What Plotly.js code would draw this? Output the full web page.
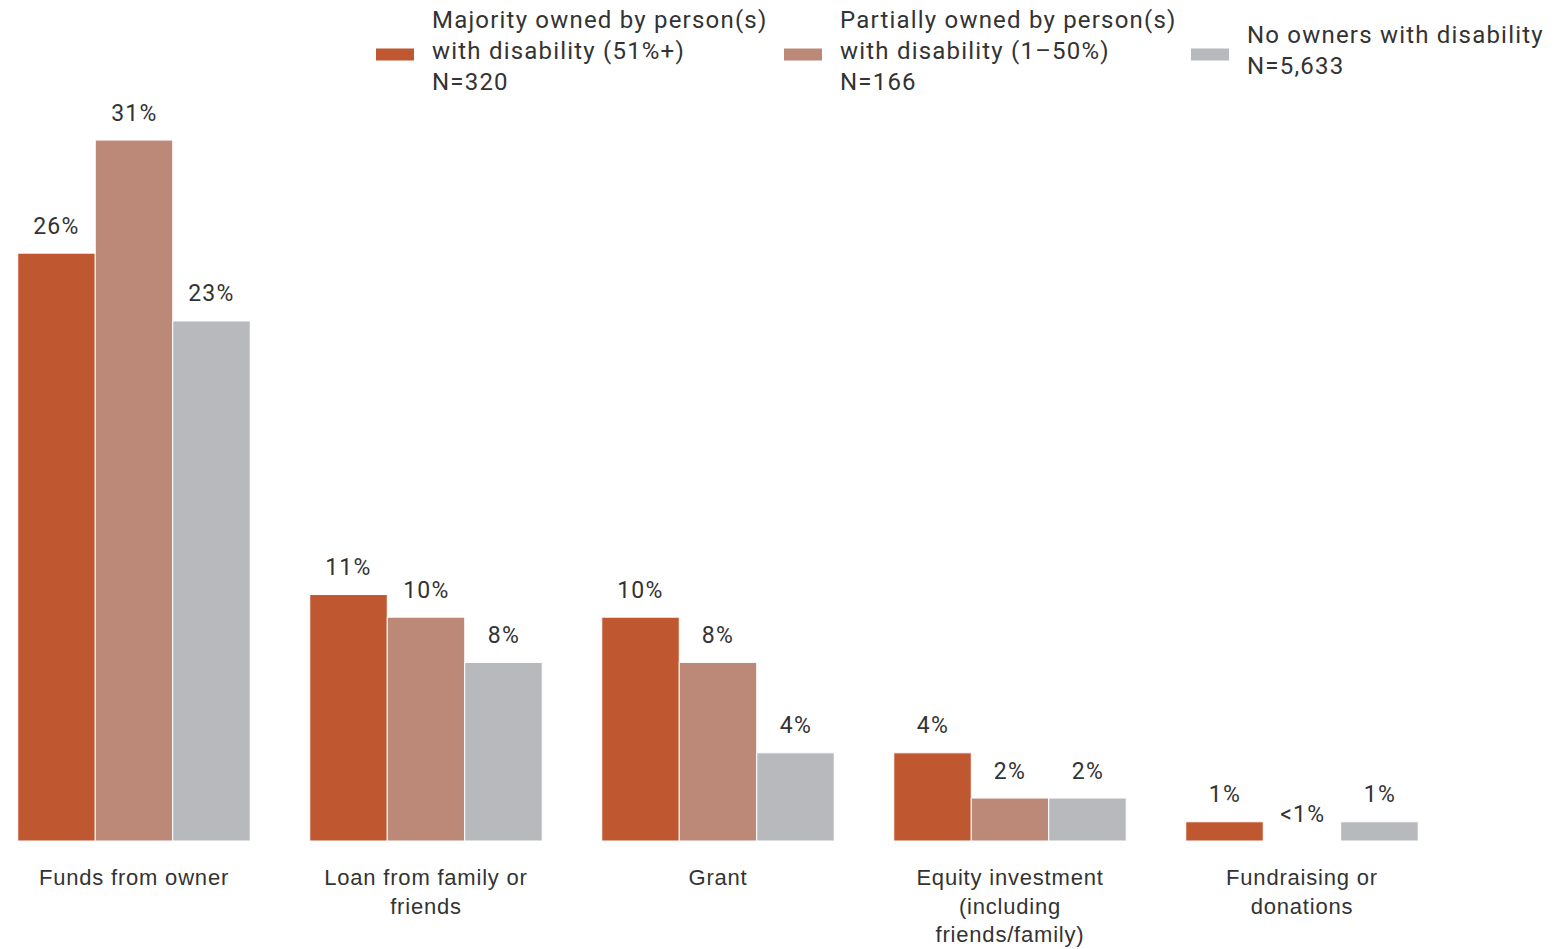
<!DOCTYPE html>
<html>
<head>
<meta charset="utf-8">
<script src="https://cdn.plot.ly/plotly-3.0.1.min.js"></script>
<style>
html,body{margin:0;padding:0;background:#fff;}
#chart{width:1556px;height:949px;}
#chart .annotation-text{letter-spacing:1.2px;}
#chart .xtick text{letter-spacing:0.8px;}
</style>
</head>
<body>
<div id="chart"></div>
<script>
const categories = ["Funds from owner", "Loan from family or<br>friends", "Grant", "Equity investment<br>(including<br>friends/family)", "Fundraising or<br>donations"];
const seriesNames = ["Majority owned by person(s)<br>with disability (51%+)<br>N=320", "Partially owned by person(s)<br>with disability (1\u201350%)<br>N=166", "No owners with disability<br>N=5,633"];
const majorityValues = [26, 10.9, 9.9, 3.9, 0.85];
const partialValues = [31, 9.9, 7.9, 1.9, 0];
const noneValues = [23, 7.9, 3.9, 1.9, 0.85];
const majorityLabels = ["26%", "11%", "10%", "4%", "1%"];
const partialLabels = ["31%", "10%", "8%", "2%", "<1%"];
const noneLabels = ["23%", "8%", "4%", "2%", "1%"];
const colors = ["#BF5730", "#BC8877", "#B8B9BD"];

const values = [majorityValues, partialValues, noneValues];
const labels = [majorityLabels, partialLabels, noneLabels];
const xs = categories.map((c, i) => i);

const traces = values.map((v, k) => ({
  type: "bar",
  x: xs,
  y: v,
  name: seriesNames[k],
  marker: {color: colors[k], line: {color: "#ffffff", width: 1}},
  showlegend: false,
  hoverinfo: "none"
}));

const W = 1556, H = 949;
const plotTop = 100, plotBottom = 841;
const slot = 77.5;
const annotations = [];
values.forEach((v, k) => {
  v.forEach((val, i) => {
    annotations.push({
      x: i, y: val, xref: "x", yref: "y",
      text: labels[k][i], showarrow: false,
      xshift: (k - 1) * slot, yshift: 27, yanchor: "middle", xanchor: "center",
      font: {family: "Roboto", size: 23, color: "#333333"}
    });
  });
});

const legendX = [376, 784, 1191];
const legendTextY = 51;
const legendSymY = 54.5;
const shapes = [];
const toPX = px => px / W;
const toPY = py => (plotBottom - py) / (plotBottom - plotTop);
seriesNames.forEach((n, k) => {
  shapes.push({
    type: "rect", xref: "paper", yref: "paper",
    x0: toPX(legendX[k]), x1: toPX(legendX[k] + 38),
    y0: toPY(legendSymY + 6), y1: toPY(legendSymY - 6),
    fillcolor: colors[k], line: {width: 0}
  });
  annotations.push({
    xref: "paper", yref: "paper", x: toPX(legendX[k] + 54), y: toPY(legendTextY),
    xanchor: "left", yanchor: "middle", align: "left", showarrow: false,
    text: n, font: {family: "Roboto", size: 24, color: "#333333"}
  });
});

const layout = {
  width: W, height: H,
  margin: {l: 0, r: 0, t: plotTop, b: H - plotBottom, pad: 0},
  paper_bgcolor: "#ffffff", plot_bgcolor: "#ffffff",
  barmode: "group", bargap: 0.204, bargroupgap: 0,
  showlegend: false,
  xaxis: {
    range: [-134 / 292, (W - 134) / 292],
    tickmode: "array", tickvals: xs, ticktext: categories,
    showgrid: false, zeroline: false, showline: false, ticks: "",
    ticklabelstandoff: 21,
    tickfont: {family: "Liberation Sans, Arial", size: 22, color: "#333333"},
    fixedrange: true
  },
  yaxis: {
    range: [0, (plotBottom - plotTop) / 22.61],
    visible: false, showgrid: false, zeroline: false, fixedrange: true
  },
  annotations: annotations,
  shapes: shapes
};

Plotly.newPlot("chart", traces, layout, {displayModeBar: false, staticPlot: true});
</script>
</body>
</html>
